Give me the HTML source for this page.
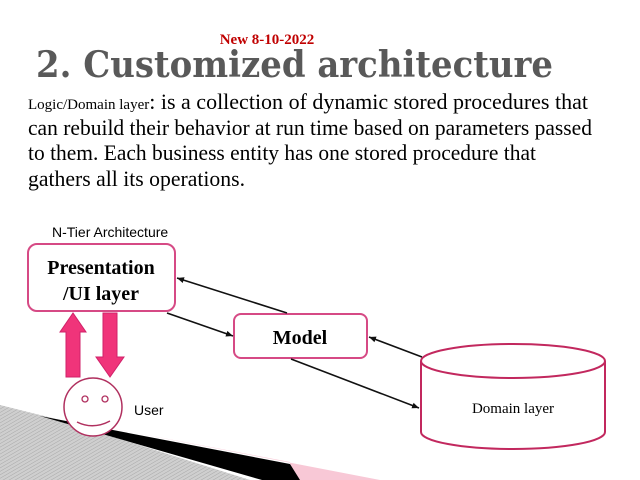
<!DOCTYPE html>
<html><head><meta charset="utf-8"><style>html,body{margin:0;padding:0;background:#fff}svg{display:block}</style></head>
<body>
<svg width="640" height="480" viewBox="0 0 640 480" xmlns="http://www.w3.org/2000/svg">
<defs>
<pattern id="h" width="3" height="3" patternUnits="userSpaceOnUse" patternTransform="rotate(60)">
<rect width="3" height="3" fill="#cfcfcf"/><line x1="0" y1="0" x2="0" y2="3" stroke="#a8a8a8" stroke-width="1"/>
</pattern>
<marker id="a" markerWidth="8" markerHeight="8" refX="7" refY="4" orient="auto" markerUnits="userSpaceOnUse"><path d="M0,1 L7,4 L0,7 z" fill="#111"/></marker>
</defs>
<polygon points="0,405 60,420 250,480 0,480" fill="url(#h)"/>
<polygon points="110,428 380,480 290,480 290,462" fill="#f8c8d6"/>
<polygon points="40,416 290,464 300,480 262,480" fill="#000"/>
<text x="267" y="44" text-anchor="middle" font-family="Liberation Serif, serif" font-weight="bold" font-size="15" fill="#c00000">New 8-10-2022</text>
<text x="36" y="77" font-family="DejaVu Serif, serif" font-weight="bold" font-size="36" fill="#595959" textLength="517" lengthAdjust="spacingAndGlyphs">2. Customized architecture</text>
<g font-family="Liberation Serif, serif" font-size="22" fill="#000">
<text x="28" y="109" textLength="560" lengthAdjust="spacingAndGlyphs"><tspan font-size="15">Logic/Domain layer</tspan>: is a collection of dynamic stored procedures that</text>
<text x="28" y="135" textLength="564" lengthAdjust="spacingAndGlyphs">can rebuild their behavior at run time based on parameters passed</text>
<text x="28" y="160" textLength="508" lengthAdjust="spacingAndGlyphs">to them. Each business entity has one stored procedure that</text>
<text x="28" y="186" textLength="217" lengthAdjust="spacingAndGlyphs">gathers all its operations.</text>
</g>
<text x="52" y="237" font-family="Liberation Sans, sans-serif" font-size="14" fill="#000">N-Tier Architecture</text>
<rect x="28" y="244" width="147" height="67" rx="9" fill="#fff" stroke="#d64a85" stroke-width="2"/>
<text x="101" y="274" text-anchor="middle" font-family="Liberation Serif, serif" font-weight="bold" font-size="20">Presentation</text>
<text x="101" y="300" text-anchor="middle" font-family="Liberation Serif, serif" font-weight="bold" font-size="20">/UI layer</text>
<rect x="234" y="314" width="133" height="44" rx="7" fill="#fff" stroke="#d64a85" stroke-width="2"/>
<text x="300" y="344" text-anchor="middle" font-family="Liberation Serif, serif" font-weight="bold" font-size="20">Model</text>
<path d="M421,361 L421,432 A92,17 0 0 0 605,432 L605,361" fill="#fff" stroke="#c2285e" stroke-width="2"/>
<ellipse cx="513" cy="361" rx="92" ry="17" fill="#fff" stroke="#c2285e" stroke-width="2"/>
<text x="513" y="413" text-anchor="middle" font-family="Liberation Serif, serif" font-size="15">Domain layer</text>
<g stroke="#111" stroke-width="1.6" fill="none">
<line x1="287" y1="313" x2="177" y2="278" marker-end="url(#a)"/>
<line x1="167" y1="313" x2="233" y2="336" marker-end="url(#a)"/>
<line x1="422" y1="357" x2="369" y2="337" marker-end="url(#a)"/>
<line x1="291" y1="359" x2="419" y2="408" marker-end="url(#a)"/>
</g>
<polygon points="66,377 80,377 80,332 86,332 73,313 60,332 66,332" fill="#f0347a" stroke="#d0226a" stroke-width="1"/>
<polygon points="103,313 117,313 117,357 124,357 110,377 96,357 103,357" fill="#f0347a" stroke="#d0226a" stroke-width="1"/>
<circle cx="93" cy="407" r="29" fill="#fff" stroke="#b0305f" stroke-width="1.5"/>
<circle cx="85" cy="399" r="3" fill="none" stroke="#b0305f" stroke-width="1.3"/>
<circle cx="105" cy="399" r="3" fill="none" stroke="#b0305f" stroke-width="1.3"/>
<path d="M77,422 Q93,430 110,421" fill="none" stroke="#b0305f" stroke-width="1.5"/>
<text x="134" y="415" font-family="Liberation Sans, sans-serif" font-size="14">User</text>
</svg>
</body></html>
